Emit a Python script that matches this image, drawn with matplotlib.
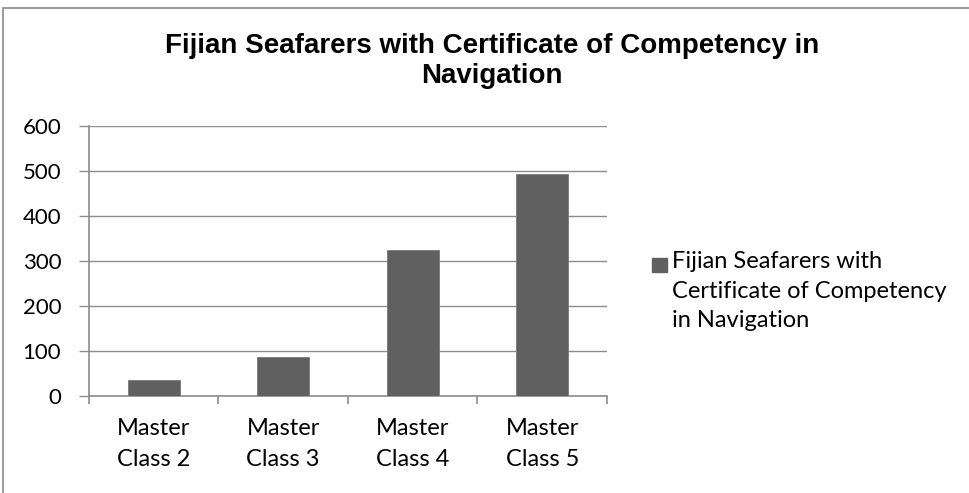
import matplotlib.pyplot as plt
from matplotlib.patches import Rectangle

# ---------------- Data ----------------
categories = ["Master\nClass 2", "Master\nClass 3", "Master\nClass 4", "Master\nClass 5"]
values = [35, 87, 325, 493]
series_name = "Fijian Seafarers with\nCertificate of Competency\nin Navigation"
title = "Fijian Seafarers with Certificate of Competency in\nNavigation"
yticks = [0, 100, 200, 300, 400, 500, 600]

BAR = "#606060"
GRID = "#8c8c8c"
FONT = "Lato"
W, H = 970, 493

fig = plt.figure(figsize=(9.7, 4.93), dpi=100)
# plot area in pixels: left 89, right 607, top 126, bottom 396
ax = fig.add_axes([89 / W, 1 - 396 / H, (607 - 89) / W, (396 - 126) / H])

x = range(len(categories))
ax.bar(x, values, width=0.4, color=BAR, edgecolor="#7a7a7a", linewidth=0.6, zorder=3)

ax.set_xlim(-0.5, len(categories) - 0.5)
ax.set_ylim(0, 600)
ax.set_yticks(yticks)
ax.yaxis.grid(True, color=GRID, linewidth=1.0, zorder=0)
ax.set_axisbelow(True)

for s in ["top", "right"]:
    ax.spines[s].set_visible(False)
for s in ["left", "bottom"]:
    ax.spines[s].set_color(GRID)
    ax.spines[s].set_linewidth(1.2)

# category labels centered, tick marks at boundaries
ax.set_xticks(list(x))
ax.set_xticklabels(categories, fontsize=17, family=FONT, linespacing=1.6)
ax.tick_params(axis="x", length=0, pad=16)
ax.set_xticks([i - 0.5 for i in range(len(categories) + 1)], minor=True)
ax.tick_params(axis="x", which="minor", length=6, color=GRID, width=1.2)
ax.tick_params(axis="y", length=7, color=GRID, width=1.0, labelsize=16, pad=13)
for t in ax.get_yticklabels():
    t.set_family(FONT)

fig.text(492 / W, 1 - 61 / H, title, ha="center", va="center", fontsize=20,
         fontweight="bold", family="Liberation Sans", linespacing=1.2)

# legend: swatch beside first line of the series name
fig.patches.append(Rectangle((652 / W, 1 - 272 / H), 15 / W, 14 / H,
                             transform=fig.transFigure, color=BAR))
fig.text(672 / W, 1 - 251 / H, series_name, ha="left", va="top", fontsize=17,
         family=FONT, linespacing=1.5)

# outer chart border
fig.patches.append(Rectangle((3 / W, -0.1), 1.0, 1.1 - 8 / H, transform=fig.transFigure,
                             fill=False, edgecolor="#8a8a8a", linewidth=1.2))

fig.savefig("out.png", dpi=100)
